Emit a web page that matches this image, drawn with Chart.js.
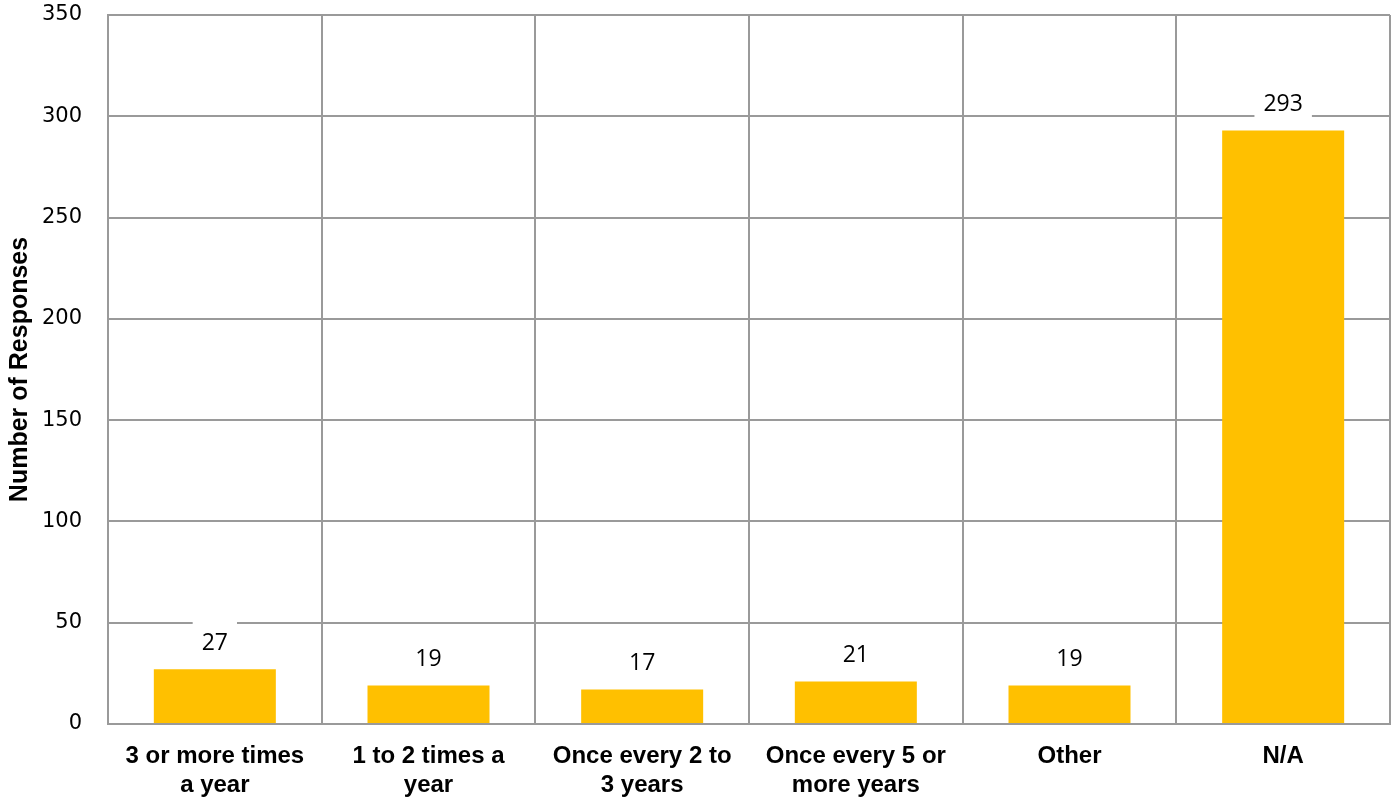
<!DOCTYPE html>
<html>
<head>
<meta charset="utf-8">
<script src="https://cdn.jsdelivr.net/npm/chart.js@4/dist/chart.umd.min.js"></script>
<style>
  html, body { margin: 0; padding: 0; background: #fff; }
  #wrap { width: 1398px; height: 808px; }
</style>
</head>
<body>
<div id="wrap"><canvas id="chart" width="1398" height="808"></canvas></div>
<script>
// Categorias e valores
const categories = [
    ['3 or more times', 'a year'],
    ['1 to 2 times a', 'year'],
    ['Once every 2 to', '3 years'],
    ['Once every 5 or', 'more years'],
    'Other',
    'N/A'
];
const responses = [27, 19, 17, 21, 19, 293];
const yMin = 0;
const yMax = 350;
const yStep = 50;

const gridColor = '#9a9a9a';

// Rótulos de valor com fundo branco acima das barras
const valueLabels = {
    id: 'valueLabels',
    afterDatasetsDraw(chart) {
        const ctx = chart.ctx;
        const meta = chart.getDatasetMeta(0);
        ctx.save();
        ctx.font = '23px "Open Sans"';
        ctx.textAlign = 'center';
        ctx.textBaseline = 'middle';
        meta.data.forEach((bar, i) => {
            const txt = String(responses[i]);
            const w = ctx.measureText(txt).width;
            const cy = bar.y - 26;
            ctx.fillStyle = '#fff';
            ctx.fillRect(bar.x - w / 2 - 9, cy - 23, w + 18, 44);
            ctx.fillStyle = '#000';
            ctx.fillText(txt, bar.x, cy);
        });
        ctx.restore();
    }
};

const chart = new Chart(document.getElementById('chart').getContext('2d'), {
    type: 'bar',
    data: {
        labels: categories,
        datasets: [{
            label: 'Number of Responses',
            data: responses,
            backgroundColor: '#FFC000',
            borderWidth: 0,
            barPercentage: 0.571,
            categoryPercentage: 1
        }]
    },
    options: {
        responsive: false,
        animation: false,
        layout: { padding: { top: 15, right: 8, left: 0, bottom: 0 } },
        plugins: {
            legend: { display: false },
            tooltip: { enabled: false }
        },
        scales: {
            x: {
                grid: { color: gridColor, lineWidth: 2, drawTicks: false },
                border: { color: gridColor, width: 2 },
                ticks: {
                    color: '#000',
                    padding: 18,
                    maxRotation: 0,
                    autoSkip: false,
                    font: { family: '"Liberation Sans", Arial', size: 24, weight: 'bold', lineHeight: 1.2 }
                },
                afterFit(s) { s.height = 84; s.paddingLeft = 0; s.paddingRight = 0; }
            },
            y: {
                min: yMin,
                max: yMax,
                grid: { color: gridColor, lineWidth: 2, drawTicks: false },
                border: { color: gridColor, width: 2 },
                ticks: {
                    stepSize: yStep,
                    color: '#000',
                    padding: 26,
                    font: { family: '"DejaVu Sans"', size: 21 }
                },
                title: {
                    display: true,
                    text: 'Number of Responses',
                    color: '#000',
                    padding: { top: 5, bottom: 0 },
                    font: { family: '"Liberation Sans", Arial', size: 25, weight: 'bold' }
                },
                afterFit(s) { s.width = 108; s.paddingTop = 0; s.paddingBottom = 0; }
            }
        }
    },
    plugins: [valueLabels]
});
</script>
</body>
</html>
